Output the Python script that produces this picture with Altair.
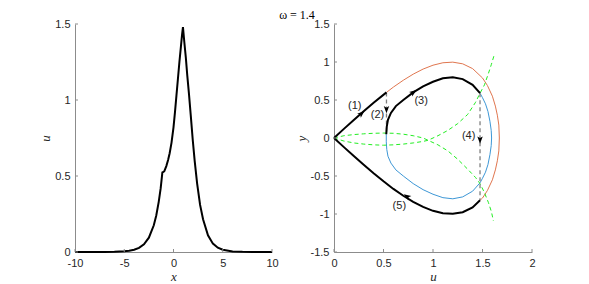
import altair as alt
import pandas as pd

TITLE = "ω = 1.4"

# ---------------- left panel: u(x) ----------------
x_left = [-10, -9, -8, -7, -6, -5, -4.5, -4, -3.5, -3, -2.5, -2, -1.75, -1.5, -1.3,
          -1.13, -1.02, -0.93, -0.85, -0.73, -0.55, -0.39, -0.2, 0.0, 0.15, 0.3, 0.45,
          0.6, 0.75, 0.87, 0.96, 1.1, 1.25, 1.4, 1.57, 1.75, 1.95, 2.15, 2.4, 2.7, 3.0,
          3.5, 4.0, 4.5, 5.0, 6.0, 7.0, 8.0, 9.0, 10]
u_left = [0.0, 0.0, 0.0001, 0.0003, 0.0012, 0.0042, 0.0078, 0.015, 0.027, 0.051, 0.094,
          0.176, 0.24, 0.33, 0.42, 0.524, 0.527, 0.532, 0.545, 0.565, 0.605, 0.65, 0.72,
          0.82, 0.92, 1.03, 1.14, 1.25, 1.35, 1.43, 1.48, 1.38, 1.28, 1.16, 1.04, 0.9,
          0.74, 0.6, 0.45, 0.31, 0.215, 0.11, 0.055, 0.028, 0.015, 0.004, 0.001, 0.0003,
          0.0001, 0.0]

left_xticks = [-10, -5, 0, 5, 10]
left_yticks = [0, 0.5, 1, 1.5]

# ---------------- right panel: phase plane (u, y) ----------------
# (1) black, origin -> jump point
p1_u = [0, 0.1, 0.2, 0.3, 0.4, 0.53]
p1_y = [0, 0.12, 0.237, 0.353, 0.464, 0.60]
# (3) black, inner orbit upper part
p3_u = [0.528, 0.533, 0.545, 0.575, 0.625, 0.7, 0.8, 0.9, 1.0, 1.1, 1.2, 1.3, 1.4, 1.475]
p3_y = [0.05, 0.15, 0.24, 0.33, 0.42, 0.5, 0.6, 0.68, 0.74, 0.785, 0.80, 0.775, 0.7, 0.59]
# (5) black, outer orbit back to origin
p5_u = [1.475, 1.4, 1.3, 1.2, 1.1, 1.0, 0.9, 0.8, 0.7, 0.6, 0.5, 0.4, 0.3, 0.2, 0.1, 0]
p5_y = [-0.82, -0.913, -0.976, -0.998, -0.99, -0.958, -0.907, -0.84, -0.76, -0.67,
        -0.57, -0.464, -0.353, -0.237, -0.12, 0]
# orange, rest of outer orbit
or_u = [0.53, 0.6, 0.7, 0.8, 0.9, 1.0, 1.1, 1.2, 1.3, 1.4, 1.5, 1.55, 1.6, 1.63, 1.65,
        1.665, 1.67, 1.665, 1.65, 1.63, 1.6, 1.55, 1.5, 1.475]
or_y = [0.60, 0.67, 0.76, 0.84, 0.907, 0.958, 0.99, 0.998, 0.976, 0.913, 0.79, 0.69,
        0.55, 0.42, 0.3, 0.17, 0.0, -0.17, -0.3, -0.42, -0.55, -0.69, -0.79, -0.82]
# blue, rest of inner orbit
bl_u = [1.475, 1.5, 1.53, 1.555, 1.575, 1.588, 1.592, 1.588, 1.575, 1.555, 1.53, 1.5,
        1.475, 1.4, 1.3, 1.2, 1.1, 1.0, 0.9, 0.8, 0.7, 0.625, 0.575, 0.545, 0.533, 0.528,
        0.528]
bl_y = [0.59, 0.53, 0.45, 0.35, 0.22, 0.1, 0.0, -0.1, -0.22, -0.35, -0.45, -0.53,
        -0.59, -0.7, -0.775, -0.80, -0.785, -0.74, -0.68, -0.6, -0.5, -0.42, -0.33,
        -0.24, -0.15, -0.05, 0.05]
# green dashed curves
gA_u = [0, 0.1, 0.2, 0.3, 0.4, 0.5, 0.6, 0.7, 0.8, 0.9, 0.95, 1.05, 1.15, 1.25, 1.35,
        1.43, 1.475, 1.52, 1.56, 1.59, 1.61]
gA_y = [0, 0.03, 0.045, 0.055, 0.062, 0.065, 0.062, 0.05, 0.03, 0.0, -0.03, -0.09,
        -0.17, -0.28, -0.41, -0.52, -0.6, -0.72, -0.85, -0.97, -1.09]
gB_u = [0, 0.1, 0.2, 0.3, 0.4, 0.5, 0.6, 0.7, 0.8, 0.9, 0.95, 1.05, 1.15, 1.25, 1.35,
        1.43, 1.475, 1.52, 1.56, 1.59, 1.62]
gB_y = [0, -0.04, -0.065, -0.08, -0.09, -0.095, -0.09, -0.08, -0.065, -0.045, -0.03,
        0.03, 0.1, 0.19, 0.31, 0.47, 0.59, 0.7, 0.85, 0.97, 1.1]
# gray dashed jumps (2) and (4)
j2_u = [0.53, 0.53]
j2_y = [0.60, 0.05]
j4_u = [1.475, 1.475]
j4_y = [0.59, -0.82]

# arrow heads
arr_u = [0.276, 0.80, 0.74, 0.53, 1.475]
arr_y = [0.32, 0.60, -0.77, 0.38, -0.02]
arr_angle = [48, 55, 302, 180, 180]

# labels
lab_text = ["(1)", "(2)", "(3)", "(4)", "(5)"]
lab_u = [0.21, 0.44, 0.88, 1.36, 0.66]
lab_y = [0.42, 0.30, 0.49, 0.02, -0.90]

right_xticks = [0, 0.5, 1, 1.5, 2]
right_yticks = [-1.5, -1, -0.5, 0, 0.5, 1, 1.5]

# ---------------- styles ----------------
LABEL_FONT = "Liberation Sans"
SERIF = "Liberation Serif"
AX_COLOR = "#8c8c8c"
W_L, W_R, H = 197, 198, 228


def path_df(us, ys):
    return pd.DataFrame({"u": us, "y": ys, "i": list(range(len(us)))})


def axis(ticks, title):
    return alt.Axis(values=ticks, title=title, ticks=False, grid=False,
                    domainColor=AX_COLOR, domainWidth=1, labelFlush=False,
                    labelFont=LABEL_FONT, labelFontSize=11, labelColor="#262626",
                    labelExpr="datum.value + ''", labelPadding=5,
                    titleFont=SERIF, titleFontStyle="italic", titleFontWeight="normal",
                    titleFontSize=13, titleColor="#262626", titlePadding=2)


# left chart
lx = alt.Scale(domain=[-10, 10], nice=False, zero=False)
ly = alt.Scale(domain=[0, 1.5], nice=False, zero=False)
LAX = axis(left_xticks, "x")
LAY = axis(left_yticks, "u")
left_df = pd.DataFrame({"x": x_left, "u": u_left, "i": list(range(len(x_left)))})
left_line = alt.Chart(left_df).mark_line(color="black", strokeWidth=2).encode(
    x=alt.X("x:Q", scale=lx, axis=LAX),
    y=alt.Y("u:Q", scale=ly, axis=LAY),
    order="i:Q",
)
lt_x = alt.Chart(pd.DataFrame({"t": left_xticks})).mark_rule(color=AX_COLOR, strokeWidth=1).encode(
    x=alt.X("t:Q", scale=lx, axis=LAX), y=alt.value(H), y2=alt.value(H - 3))
lt_y = alt.Chart(pd.DataFrame({"t": left_yticks})).mark_rule(color=AX_COLOR, strokeWidth=1).encode(
    y=alt.Y("t:Q", scale=ly, axis=LAY), x=alt.value(0), x2=alt.value(3))
left = alt.layer(left_line, lt_x, lt_y).properties(width=W_L, height=H)

# right chart
rx = alt.Scale(domain=[0, 2], nice=False, zero=False)
ry = alt.Scale(domain=[-1.5, 1.5], nice=False, zero=False)
RAX = axis(right_xticks, "u")
RAY = axis(right_yticks, "y")


def rline(us, ys, color, width, dash=None):
    kw = dict(color=color, strokeWidth=width)
    if dash:
        kw["strokeDash"] = dash
    return alt.Chart(path_df(us, ys)).mark_line(**kw).encode(
        x=alt.X("u:Q", scale=rx, axis=RAX),
        y=alt.Y("y:Q", scale=ry, axis=RAY),
        order="i:Q",
    )


layers = [
    rline(or_u, or_y, "#E0764F", 1),
    rline(bl_u, bl_y, "#3D97D6", 1),
    rline(gA_u, gA_y, "#22EE22", 1, dash=[4, 3]),
    rline(gB_u, gB_y, "#22EE22", 1, dash=[4, 3]),
    rline(j2_u, j2_y, "#808080", 1.3, dash=[4, 3]),
    rline(j4_u, j4_y, "#808080", 1.3, dash=[4, 3]),
    rline(p1_u, p1_y, "black", 2),
    rline(p3_u, p3_y, "black", 2),
    rline(p5_u, p5_y, "black", 2),
]

arrow_shape = "M0,-1L0.65,0.75L0,0.35L-0.65,0.75Z"
arr = alt.Chart(pd.DataFrame({"u": arr_u, "y": arr_y, "a": arr_angle})).mark_point(
    shape=arrow_shape, filled=True, color="black", opacity=1, size=70).encode(
    x=alt.X("u:Q", scale=rx, axis=RAX), y=alt.Y("y:Q", scale=ry, axis=RAY),
    angle=alt.Angle("a:Q", scale=None))
labs = alt.Chart(pd.DataFrame({"u": lab_u, "y": lab_y, "t": lab_text})).mark_text(
    font=LABEL_FONT, fontSize=11, color="#262626").encode(
    x=alt.X("u:Q", scale=rx, axis=RAX), y=alt.Y("y:Q", scale=ry, axis=RAY), text="t:N")
rt_x = alt.Chart(pd.DataFrame({"t": right_xticks})).mark_rule(color=AX_COLOR, strokeWidth=1).encode(
    x=alt.X("t:Q", scale=rx, axis=RAX), y=alt.value(H), y2=alt.value(H - 3))
rt_y = alt.Chart(pd.DataFrame({"t": right_yticks})).mark_rule(color=AX_COLOR, strokeWidth=1).encode(
    y=alt.Y("t:Q", scale=ry, axis=RAY), x=alt.value(0), x2=alt.value(3))
title_mark = alt.Chart(pd.DataFrame({"t": [TITLE]})).mark_text(
    font=SERIF, fontSize=12, color="black", align="center", baseline="alphabetic").encode(
    text="t:N", x=alt.value(-37), y=alt.value(-5))

right = alt.layer(*layers, arr, labs, rt_x, rt_y, title_mark).properties(width=W_R, height=H)

chart = alt.hconcat(left, right, spacing=62, bounds="flush").properties(
    padding={"left": 31, "top": 1, "right": 5, "bottom": 0},
).configure_view(stroke=None)

chart.save("out.html", embed_options={"renderer": "svg", "actions": False})
